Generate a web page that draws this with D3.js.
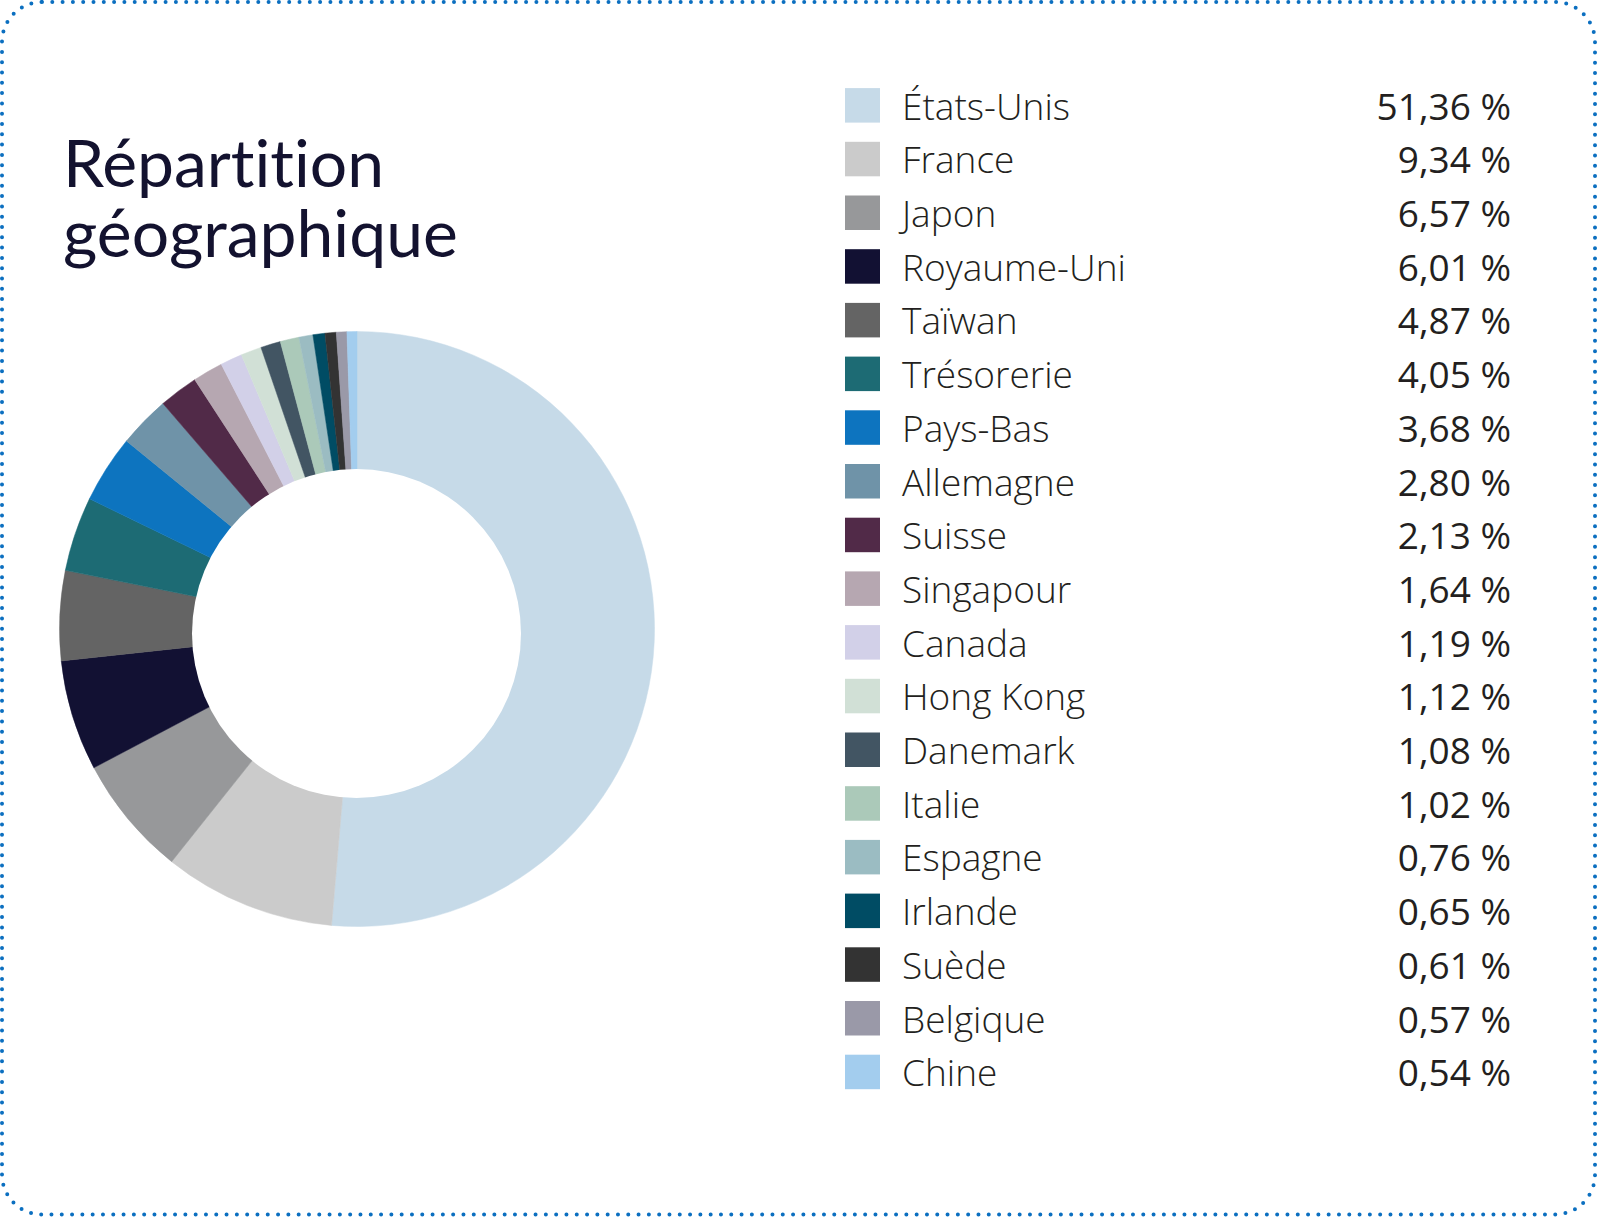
<!DOCTYPE html>
<html>
<head>
<meta charset="utf-8">
<script src="https://cdn.jsdelivr.net/npm/d3@7"></script>
<style>
  html, body { margin: 0; padding: 0; background: #ffffff; }
  svg { display: block; }
</style>
</head>
<body>
<svg id="chart" width="1597" height="1217"></svg>
<script>
// ---- Data ----
const countries = ["États-Unis","France","Japon","Royaume-Uni","Taïwan","Trésorerie","Pays-Bas","Allemagne","Suisse","Singapour","Canada","Hong Kong","Danemark","Italie","Espagne","Irlande","Suède","Belgique","Chine"];
const shares = [51.36,9.34,6.57,6.01,4.87,4.05,3.68,2.80,2.13,1.64,1.19,1.12,1.08,1.02,0.76,0.65,0.61,0.57,0.54];
const colors = ["#c6dae8","#cbcbcb","#97989a","#121133","#646464","#1d6b74","#0d74bf","#6f93a8","#512a48","#b6a7b1","#d2d0e8","#d1e0d6","#425563","#abc9b9","#9bbcc2","#004c64","#333333","#9a99a8","#a3cdee"];
const titleLines = ["Répartition","géographique"];

const W = 1597, H = 1217;
const svg = d3.select("#chart");

// Dotted rounded frame
svg.append("rect")
  .attr("x", 2).attr("y", 2)
  .attr("width", W - 4).attr("height", H - 4.5)
  .attr("rx", 40).attr("ry", 40)
  .attr("fill", "none")
  .attr("stroke", "#0b6fc0")
  .attr("stroke-width", 4)
  .attr("stroke-linecap", "round")
  .attr("stroke-dasharray", "0 10.3");

// Title (two separate lines)
titleLines.forEach((t, i) => {
  svg.append("text")
    .attr("x", 63).attr("y", 187 + i * 70)
    .attr("fill", "#13122f")
    .style("font-family", "Lato, 'Noto Sans', sans-serif")
    .style("font-size", "66px")
    .style("font-weight", 400)
    .style("font-variant-ligatures", "none")
    .style("font-feature-settings", "'liga' 0, 'clig' 0")
    .text(t);
});

// Donut (ring drawn as pie with a slightly offset hole, as in the source)
const cx = 357, cy = 629, rOuter = 297.5;
const holeDx = -0.5, holeDy = 4.5, rHole = 164.5;
const color = d3.scaleOrdinal().domain(countries).range(colors);
const pie = d3.pie().sort(null).value(d => d.v);
const data = countries.map((c, i) => ({ c, v: shares[i] }));
const arc = d3.arc().innerRadius(0).outerRadius(rOuter);

const donut = svg.append("g").attr("transform", `translate(${cx},${cy})`);
donut.selectAll("path")
  .data(pie(data))
  .join("path")
  .attr("d", arc)
  .attr("fill", d => color(d.data.c))
  .attr("stroke", d => color(d.data.c))
  .attr("stroke-width", 0.5);
donut.append("circle")
  .attr("cx", holeDx).attr("cy", holeDy)
  .attr("r", rHole)
  .attr("fill", "#ffffff");

// Legend
const rowY = d3.scaleLinear().domain([0, 1]).range([119.6, 173.3]);
const fmt = v => v.toFixed(2).replace(".", ",") + " %";
const legend = svg.append("g");
const rows = legend.selectAll("g.row")
  .data(data)
  .join("g")
  .attr("class", "row")
  .attr("transform", (d, i) => `translate(0,${rowY(i)})`);

rows.append("rect")
  .attr("x", 845).attr("y", -31.5)
  .attr("width", 35).attr("height", 34.5)
  .attr("fill", d => color(d.c));

rows.append("text")
  .attr("x", 902).attr("y", 0)
  .attr("fill", "#231f20")
  .style("font-family", "'Open Sans', 'Noto Sans', sans-serif")
  .style("font-size", "37px")
  .style("font-weight", 300)
  .text(d => d.c);

rows.append("text")
  .attr("x", 1511).attr("y", 0)
  .attr("text-anchor", "end")
  .attr("fill", "#231f20")
  .style("font-family", "'Open Sans', 'Noto Sans', sans-serif")
  .style("font-size", "37px")
  .style("font-weight", 400)
  .text(d => fmt(d.v));
</script>
</body>
</html>
